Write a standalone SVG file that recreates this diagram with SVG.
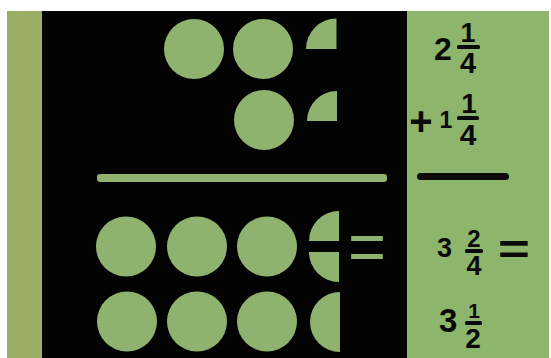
<svg xmlns="http://www.w3.org/2000/svg" width="551" height="358" viewBox="0 0 551 358">
<style>
.g{fill:#8fb26e}
.t{font-family:"Liberation Sans",Arial,sans-serif;font-weight:bold;fill:#0a0a0a}
.m{text-anchor:middle}
.ge{font-family:"Liberation Sans",Arial,sans-serif;font-weight:normal;fill:#8fb26e;text-anchor:middle}
.fb{fill:#0a0a0a}
</style>
<rect x="0" y="0" width="551" height="358" fill="#ffffff"/>
<g id="left-strip"><rect x="7" y="11" width="36" height="347" fill="#9cad65"/></g>
<g id="black-board"><rect x="42" y="11" width="366" height="347" fill="#030303"/></g>
<g id="right-panel"><rect x="407" y="11" width="142" height="347" fill="#8db56c"/></g>

<g id="addend-1">
<circle class="g" cx="194" cy="49" r="30"/>
<circle class="g" cx="263" cy="49" r="30"/>
<path class="g" d="M306 49 A30.5 30.5 0 0 1 336.5 18.5 L336.5 49 Z"/>
</g>
<g id="addend-2">
<circle class="g" cx="264" cy="120" r="30"/>
<path class="g" d="M307 121 A30 30 0 0 1 337 91 L337 121 Z"/>
</g>
<g id="sum-bar"><rect class="g" x="97" y="174" width="290" height="8" rx="3"/></g>

<g id="sum-row-1">
<circle class="g" cx="126" cy="246.5" r="30"/>
<circle class="g" cx="197" cy="246.5" r="30"/>
<circle class="g" cx="267" cy="246.5" r="30"/>
<path class="g" d="M309 241 A30 30 0 0 1 339 211 L339 241 Z"/>
<path class="g" d="M309 252 A30 30 0 0 0 339 282 L339 252 Z"/>
<text class="ge" font-size="70" transform="translate(367 271) scale(0.93 1)">=</text>
</g>
<g id="sum-row-2">
<circle class="g" cx="127" cy="321.5" r="30"/>
<circle class="g" cx="197" cy="321.5" r="30"/>
<circle class="g" cx="267" cy="321.5" r="30"/>
<path class="g" d="M340 292 A30 30 0 0 0 340 352 Z"/>
</g>

<g id="eq-2-1-4">
<text class="t" x="434" y="60" font-size="32">2</text>
<text class="t m" x="468" y="42" font-size="27">1</text>
<rect class="fb" x="457" y="45" width="23" height="4" rx="1.5"/>
<text class="t m" x="468" y="73" font-size="29">4</text>
</g>
<g id="eq-plus-1-1-4">
<text class="t m" x="421" y="135" font-size="40">+</text>
<text class="t m" x="446" y="128" font-size="23">1</text>
<text class="t m" x="469" y="113" font-size="28">1</text>
<rect class="fb" x="457" y="116" width="22" height="4" rx="1.5"/>
<text class="t m" x="468" y="145" font-size="30">4</text>
</g>
<g id="eq-rule"><rect class="fb" x="417" y="173" width="92" height="7" rx="3.5"/></g>
<g id="eq-3-2-4">
<text class="t" x="437" y="257" font-size="27">3</text>
<text class="t m" x="474" y="247" font-size="24">2</text>
<rect class="fb" x="465" y="249" width="18" height="4" rx="1.5"/>
<text class="t m" x="474" y="275" font-size="27">4</text>
<text class="t m" font-size="43" transform="translate(514 264) scale(1.27 1)">=</text>
</g>
<g id="eq-3-1-2">
<text class="t" x="439" y="332" font-size="33">3</text>
<text class="t m" x="474" y="318" font-size="21">1</text>
<rect class="fb" x="465" y="321" width="17" height="4" rx="1.5"/>
<text class="t m" x="473" y="348" font-size="28">2</text>
</g>
</svg>
